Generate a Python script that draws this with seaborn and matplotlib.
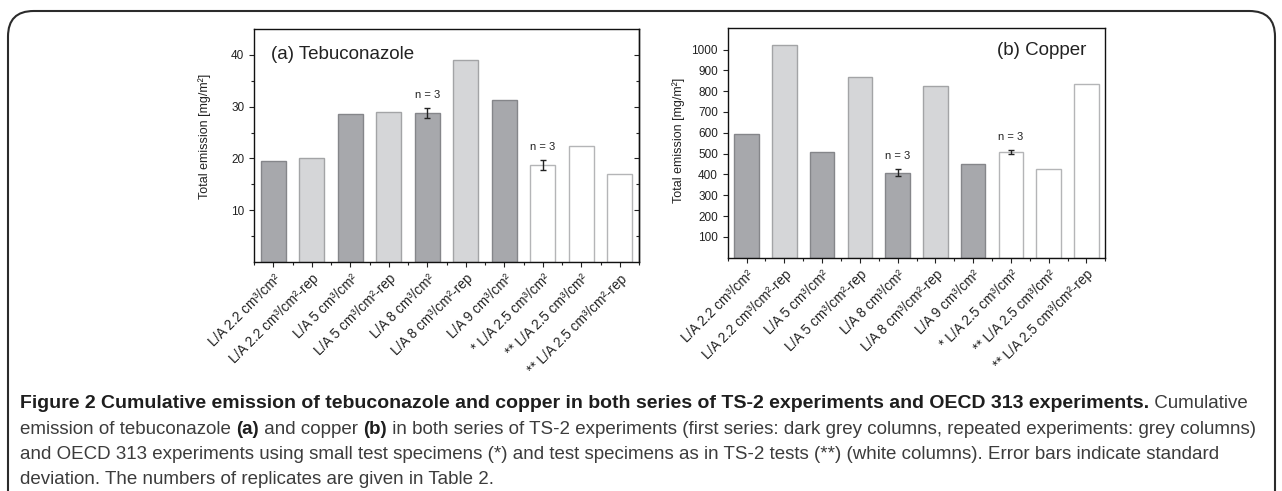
import matplotlib
matplotlib.use("Agg")
import matplotlib.pyplot as plt
import seaborn as sns
from matplotlib.patches import FancyBboxPatch
from matplotlib.text import Annotation
from matplotlib.ticker import FixedLocator, NullLocator

# categories shared by both panels
categories = [
    "L/A 2.2 cm³/cm²", "L/A 2.2 cm³/cm²-rep", "L/A 5 cm³/cm²", "L/A 5 cm³/cm²-rep",
    "L/A 8 cm³/cm²", "L/A 8 cm³/cm²-rep", "L/A 9 cm³/cm²", "* L/A 2.5 cm³/cm²",
    "** L/A 2.5 cm³/cm²", "** L/A 2.5 cm³/cm²-rep",
]
# series type per column: first series, repeated, OECD 313
groups = ["first", "rep", "first", "rep", "first", "rep", "first", "oecd", "oecd", "oecd"]

tebuconazole = [19.5, 20.0, 28.5, 29.0, 28.8, 39.0, 31.3, 18.7, 22.4, 16.9]
tebu_err = [None, None, None, None, 0.9, None, None, 1.0, None, None]

copper = [592, 1021, 510, 867, 408, 827, 448, 507, 424, 833]
copper_err = [None, None, None, None, 16, None, None, 10, None, None]

fill = {"first": "#a7a8ac", "rep": "#d5d6d8", "oecd": "#ffffff"}
edge = {"first": "#85868a", "rep": "#a3a4a6", "oecd": "#b4b5b7"}

sns.set_style("white")
plt.rcParams["font.family"] = ["Liberation Sans", "DejaVu Sans"]

fig = plt.figure(figsize=(12.82, 4.91), dpi=100)

# rounded frame around the whole figure (open at the bottom)
frame = FancyBboxPatch((8 / 1282, -0.2), 1267 / 1282, 1.2 - 11 / 491,
                       boxstyle="round,pad=0,rounding_size=0.02",
                       transform=fig.transFigure, fill=False,
                       edgecolor="#2b2b2b", linewidth=1.5, mutation_aspect=2.6)
fig.patches.append(frame)

ax_a = fig.add_axes([254 / 1282, 1 - 262 / 491, 385 / 1282, 233 / 491])
ax_b = fig.add_axes([727.7 / 1282, 1 - 257.7 / 491, 377.6 / 1282, 229.4 / 491])


def draw_panel(ax, values, errors, title, title_pos, title_ha, label_xy):
    sns.barplot(x=categories, y=values, hue=categories,
                palette=[fill[g] for g in groups], width=0.65,
                linewidth=1, legend=False, saturation=1, ax=ax)
    for patch, g in zip(ax.patches, groups):
        patch.set_edgecolor(edge[g])
    for i, (v, e) in enumerate(zip(values, errors)):
        if e is None:
            continue
        ax.errorbar(i, v, yerr=e, fmt="none", ecolor="#222222",
                    elinewidth=1, capsize=2.3, capthick=1)
        ax.annotate("n = 3", (i, v + e), xytext=(0, 6), textcoords="offset points",
                    ha="center", va="bottom", fontsize=8, color="#222222")
    ax.set_xlim(-0.5, 9.5)
    ax.set_xlabel("")
    ax.set_ylabel("Total emission [mg/m²]", fontsize=9, color="#222222")
    ax.yaxis.set_label_coords(*label_xy)
    ax.set_xticks(range(len(categories)))
    ax.set_xticklabels(categories, rotation=45, ha="right",
                       rotation_mode="anchor", fontsize=9.8, color="#222222")
    ax.tick_params(axis="y", labelsize=8.5, labelcolor="#222222")
    ax.tick_params(which="both", direction="out", left=True, bottom=True,
                   color="#222222", width=0.8)
    ax.tick_params(which="major", length=3.5)
    ax.tick_params(which="minor", length=2)
    ax.xaxis.set_minor_locator(FixedLocator([i + 0.5 for i in range(-1, len(categories))]))
    for s in ax.spines.values():
        s.set_visible(True)
        s.set_color("#111111")
        s.set_linewidth(1)
    ax.text(title_pos[0], title_pos[1], title, transform=ax.transAxes,
            ha=title_ha, va="center", fontsize=13.5, color="#222222")


draw_panel(ax_a, tebuconazole, tebu_err, "(a) Tebuconazole", (0.045, 0.89), "left",
           (-43 / 385, 0.539))
ax_a.set_ylim(0, 45)
ax_a.yaxis.set_major_locator(FixedLocator([10, 20, 30, 40]))
ax_a.yaxis.set_minor_locator(FixedLocator([5, 15, 25, 35]))
sec = ax_a.secondary_yaxis("right")
sec.set_yticks([10, 20, 30, 40])
sec.yaxis.set_minor_locator(FixedLocator([5, 15, 25, 35]))
sec.tick_params(which="both", direction="in", labelright=False, color="#222222", width=0.8)
sec.tick_params(which="major", length=3.5)
sec.tick_params(which="minor", length=2)
sec.spines["right"].set_linewidth(1)

draw_panel(ax_b, copper, copper_err, "(b) Copper", (0.95, 0.905), "right",
           (-43 / 377.6, 0.513))
ax_b.set_ylim(0, 1102)
ax_b.yaxis.set_major_locator(FixedLocator(range(100, 1001, 100)))
ax_b.yaxis.set_minor_locator(NullLocator())

# caption, written run by run so bold and normal parts join up
# (text, weight, size)
cap_lines = [
    [("Figure 2 Cumulative emission of tebuconazole and copper in both series of TS-2 experiments and OECD 313 experiments.", "bold", 14.0),
     (" Cumulative", "normal", 13.5)],
    [("emission of tebuconazole ", "normal", 13.5), ("(a)", "bold", 13.5), (" and copper ", "normal", 13.5),
     ("(b)", "bold", 13.5),
     (" in both series of TS-2 experiments (first series: dark grey columns, repeated experiments: grey columns)", "normal", 13.5)],
    [("and OECD 313 experiments using small test specimens (*) and test specimens as in TS-2 tests (**) (white columns). Error bars indicate standard", "normal", 13.5)],
    [("deviation. The numbers of replicates are given in Table 2.", "normal", 13.5)],
]
line_y = [408, 434, 459, 484]
for runs, ypix in zip(cap_lines, line_y):
    prev = None
    for txt, weight, size in runs:
        color = "#1e1e1e" if weight == "bold" else "#3c3c3c"
        if prev is None:
            prev = fig.text(20 / 1282, 1 - ypix / 491, txt, ha="left", va="baseline",
                            fontsize=size, fontweight=weight, color=color)
        else:
            prev = fig.add_artist(Annotation(txt, xy=(1, 0), xycoords=prev,
                                             ha="left", va="bottom", fontsize=size,
                                             fontweight=weight, color=color))

fig.savefig("out.png", dpi=100)
